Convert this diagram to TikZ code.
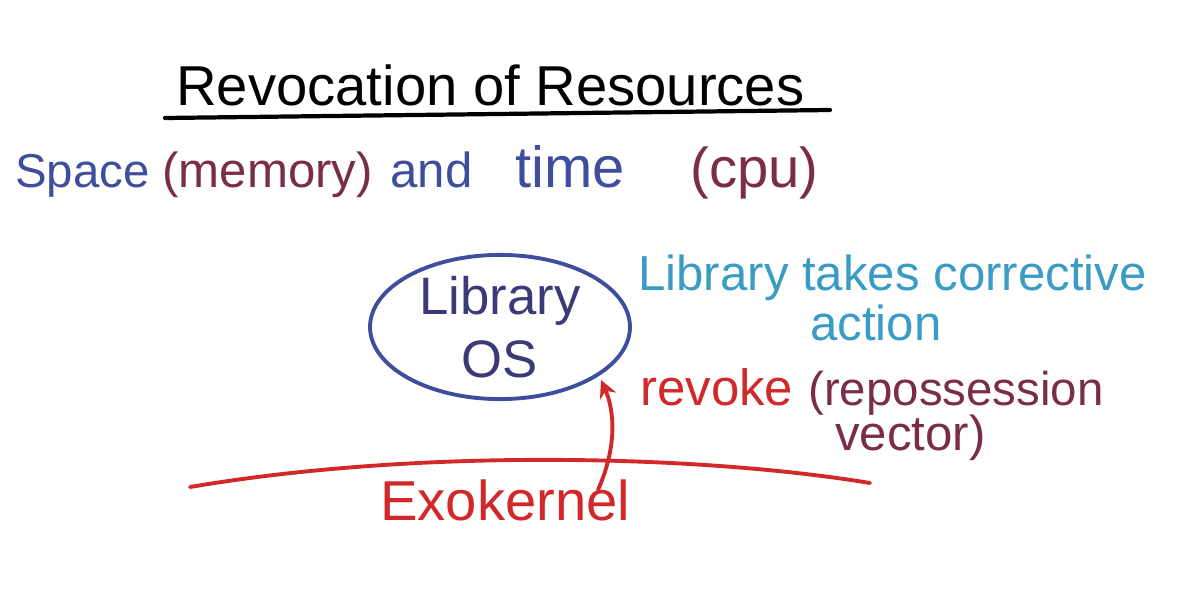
\documentclass[tikz,border=0pt]{standalone}
\usepackage{fontspec}
\setmainfont{Liberation Sans}
\usepackage{xcolor}
\usetikzlibrary{arrows.meta,shapes.geometric}

\definecolor{penblue}{HTML}{3F4E9C}
\definecolor{penmaroon}{HTML}{7A2E45}
\definecolor{penteal}{HTML}{3A9BC4}
\definecolor{penred}{HTML}{D2282A}
\definecolor{penpurple}{HTML}{3B3A78}

\begin{document}
\begin{tikzpicture}[
    x=0.02cm, y=-0.02cm,
    word/.style={anchor=base west, inner sep=0pt, font=\fontsize{28}{32}\selectfont},
    bigword/.style={word, font=\fontsize{32}{36}\selectfont},
    pen/.style={line width=2.2pt, line cap=round},
    arrow/.style={pen, -{Stealth[length=3.5mm, width=3.5mm]}}
]
\useasboundingbox (0,0) rectangle (1198,608);

% heading
\node[bigword, text=black] (title) at (176,106) {Revocation of Resources};
\draw[pen, line width=2.4pt, black] (165,118) -- (830,110);

\node[word, text=penblue, font=\fontsize{27}{32}\selectfont] (space) at (15,188) {Space};
\node[word, text=penmaroon] (memory) at (162,188) {(memory)};
\node[word, text=penblue] (and) at (390,188) {and};
\node[word, text=penblue, font=\fontsize{33}{36}\selectfont] (time) at (515,188) {time};
\node[word, text=penmaroon, font=\fontsize{32}{36}\selectfont] (cpu) at (690,188) {(cpu)};

% library OS
\node[ellipse, draw=penblue, pen, text=penpurple, align=center, inner sep=0pt,
      minimum width=5.2cm, minimum height=2.35cm,
      font=\fontsize{30}{36}\selectfont] (libos) at (500,327) {Library\\OS};

\node[word, text=penteal] (corr) at (638,291) {Library takes corrective};
\node[word, text=penteal] (action) at (810,340) {action};

\node[word, text=penred, font=\fontsize{29}{32}\selectfont] (revoke) at (640,405) {revoke};
\node[word, text=penmaroon, font=\fontsize{27}{32}\selectfont] (reposs) at (808,405) {(repossession};
\node[word, text=penmaroon] (vector) at (835,450) {vector)};

% exokernel
\draw[pen, penred] (190,487) .. controls (420,448) and (700,455) .. (870,483);
\node[bigword, text=penred] (exo) at (380,520) {Exokernel};

\coordinate (tail) at (598,490);
\coordinate (revtip) at (601,380);
\draw[arrow, penred] (tail) .. controls (620,440) and (612,405) .. (revtip);
\end{tikzpicture}
\end{document}
